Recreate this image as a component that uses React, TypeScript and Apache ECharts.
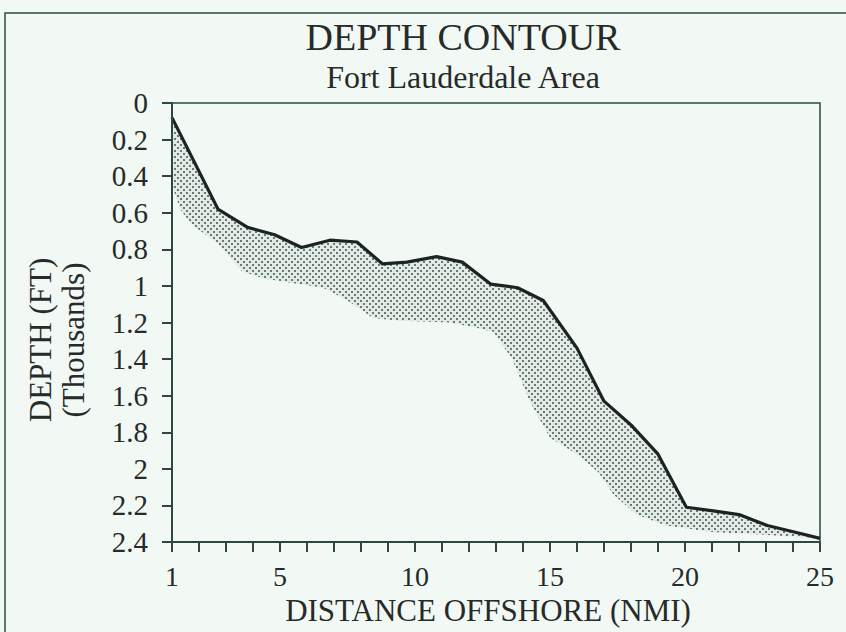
import React, { useEffect, useRef } from "react";
import * as echarts from "echarts";

// Top (solid) contour line: distance offshore (NMI) and depth (thousands of ft)
const topDistance = [1, 2.7, 3.8, 4.8, 5.8, 6.85, 7.85, 8.8, 9.7, 10.8, 11.75, 12.8, 13.8, 14.75, 16.0, 17.0, 18.0, 19.0, 20.05, 21.05, 22.0, 23.05, 24.05, 25];
const topDepth = [0.08, 0.58, 0.68, 0.72, 0.79, 0.75, 0.76, 0.88, 0.87, 0.84, 0.87, 0.99, 1.01, 1.08, 1.34, 1.63, 1.76, 1.92, 2.21, 2.23, 2.25, 2.31, 2.345, 2.38];

// Lower edge of the shaded band
const lowDistance = [1, 1.3, 1.7, 2.7, 3.6, 4.4, 5.7, 6.6, 7.5, 8.45, 9.4, 11.3, 12.3, 12.9, 13.6, 14.25, 15.0, 16.0, 16.8, 17.35, 18.2, 19.3, 21.0, 22.9, 25];
const lowDepth = [0.45, 0.58, 0.66, 0.77, 0.92, 0.96, 0.99, 1.01, 1.08, 1.175, 1.19, 1.2, 1.23, 1.25, 1.4, 1.63, 1.83, 1.92, 2.02, 2.14, 2.25, 2.31, 2.345, 2.36, 2.38];

const xTickLabels = [1, 5, 10, 15, 20, 25];

const titleText = "DEPTH CONTOUR";
const subtitleText = "Fort Lauderdale Area";
const yAxisTitle = "DEPTH (FT)\n(Thousands)";
const xAxisTitle = "DISTANCE OFFSHORE (NMI)";

const FONT = "'Liberation Serif', 'Times New Roman', serif";
const INK = "#262b29";
const AXIS = "#2d4841";
const BG = "#f2f9f5";

function makePattern(): HTMLCanvasElement {
  const c = document.createElement("canvas");
  c.width = 6;
  c.height = 6;
  const ctx = c.getContext("2d")!;
  ctx.fillStyle = "#e2eae6";
  ctx.fillRect(0, 0, 6, 6);
  ctx.fillStyle = "#677a74";
  ctx.fillRect(0, 0, 2, 2);
  ctx.fillRect(3, 3, 2, 2);
  return c;
}

export default function App() {
  const ref = useRef<HTMLDivElement>(null);

  useEffect(() => {
    if (!ref.current) return;
    const chart = echarts.init(ref.current, undefined, { renderer: "svg" });
    const pattern = makePattern();

    const topLine = topDistance.map((d, i) => [d, topDepth[i]]);

    const option: any = {
      animation: false,
      backgroundColor: BG,
      grid: {
        left: 172,
        right: 26,
        top: 103,
        bottom: 90,
        show: true,
        borderColor: AXIS,
        borderWidth: 1.5,
        backgroundColor: "transparent",
      },
      xAxis: {
        type: "value",
        position: "bottom",
        min: 1,
        max: 25,
        interval: 1,
        z: 5,
        name: xAxisTitle,
        nameLocation: "middle",
        nameGap: 49,
        nameTextStyle: {
          fontFamily: FONT,
          fontSize: 31,
          color: INK,
          padding: [0, 16, 0, 0],
        },
        axisLine: { show: true, onZero: false, lineStyle: { color: AXIS, width: 2 } },
        axisTick: { show: true, inside: false, length: 10, lineStyle: { color: AXIS, width: 2 } },
        minorTick: { show: false },
        splitLine: { show: false },
        axisLabel: {
          margin: 20,
          fontFamily: FONT,
          fontSize: 28,
          color: INK,
          showMinLabel: true,
          showMaxLabel: true,
          formatter: (v: number) => (xTickLabels.indexOf(Math.round(v)) >= 0 && Math.abs(v - Math.round(v)) < 1e-6 ? String(Math.round(v)) : ""),
        },
      },
      yAxis: {
        type: "value",
        position: "left",
        inverse: true,
        min: 0,
        max: 2.4,
        interval: 0.2,
        z: 5,
        axisLine: { show: true, onZero: false, lineStyle: { color: AXIS, width: 2 } },
        axisTick: { show: true, inside: false, length: 10, lineStyle: { color: AXIS, width: 2 } },
        minorTick: { show: false },
        splitLine: { show: false },
        axisLabel: {
          margin: 24,
          fontFamily: FONT,
          fontSize: 29,
          color: INK,
          showMinLabel: true,
          showMaxLabel: true,
          formatter: (v: number) => String(parseFloat(v.toFixed(1))),
        },
      },
      graphic: [
        {
          type: "rect",
          shape: { x: 5, y: 13, width: 900, height: 700 },
          style: { fill: "none", stroke: AXIS, lineWidth: 1.5 },
          silent: true,
        },
        {
          type: "text",
          x: 463,
          y: 37,
          style: { text: titleText, fill: INK, font: `38px ${FONT}`, align: "center", verticalAlign: "middle" },
        },
        {
          type: "text",
          x: 463,
          y: 77,
          style: { text: subtitleText, fill: INK, font: `32px ${FONT}`, align: "center", verticalAlign: "middle" },
        },
        {
          type: "text",
          x: 57,
          y: 340,
          rotation: Math.PI / 2,
          style: {
            text: yAxisTitle,
            fill: INK,
            font: `31px ${FONT}`,
            align: "center",
            verticalAlign: "middle",
            lineHeight: 33,
          },
        },
      ],
      series: [
        {
          type: "custom",
          silent: true,
          z: 1,
          data: [[1, 0]],
          renderItem: (_params: any, api: any) => {
            const pts: number[][] = [];
            for (let i = 0; i < topDistance.length; i++) pts.push(api.coord([topDistance[i], topDepth[i]]));
            for (let i = lowDistance.length - 1; i >= 0; i--) pts.push(api.coord([lowDistance[i], lowDepth[i]]));
            return {
              type: "polygon",
              shape: { points: pts },
              style: { fill: { image: pattern, repeat: "repeat" }, stroke: "none" },
            };
          },
        },
        {
          type: "line",
          data: topLine,
          z: 3,
          symbol: "none",
          lineStyle: { color: "#1c2321", width: 3.2, join: "round" },
        },
      ],
    };

    chart.setOption(option);
    return () => chart.dispose();
  }, []);

  return (
    <div
      ref={ref}
      style={{ position: "fixed", left: 0, top: 0, width: 846, height: 632, background: BG }}
    />
  );
}
